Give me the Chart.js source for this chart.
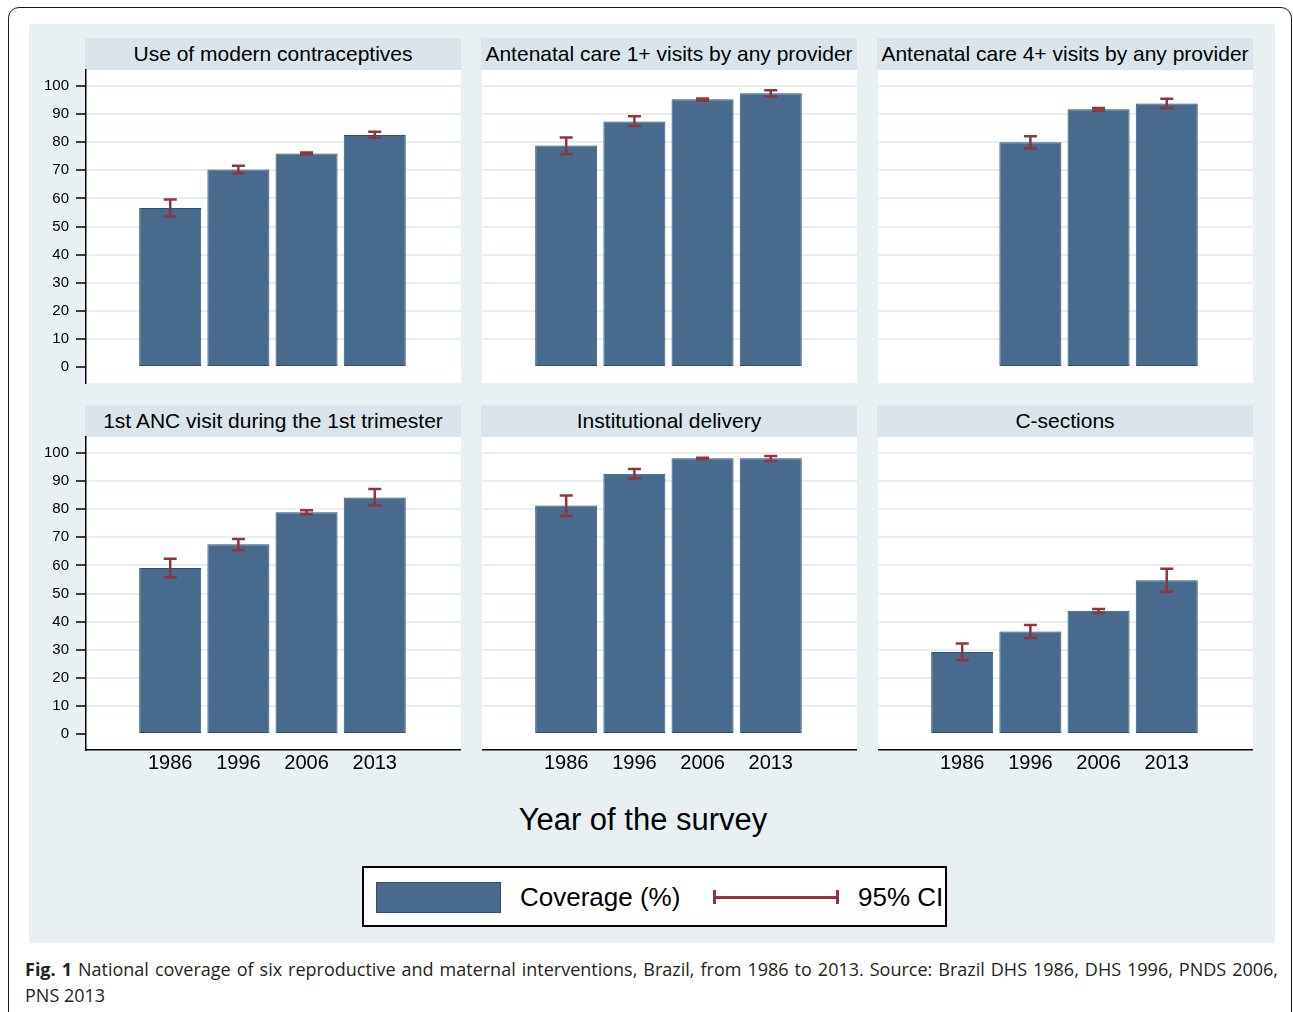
<!DOCTYPE html>
<html><head><meta charset="utf-8">
<script src="https://cdn.jsdelivr.net/npm/chart.js@4.4.1/dist/chart.umd.min.js"></script>
<style>
html,body{margin:0;padding:0;background:#fff;}
body{width:1293px;height:1012px;position:relative;overflow:hidden;font-family:"Liberation Sans",Arial,sans-serif;}
.abs{position:absolute;}
#frame{left:8px;top:7px;width:1284px;height:1100px;border:1.5px solid #1a1a1a;border-radius:11px;box-sizing:border-box;}
#bg{left:29px;top:24px;width:1246px;height:919px;background:#e9f0f3;}
.hdr{position:absolute;height:32px;background:#d9e5eb;color:#000;font-size:21px;line-height:32px;text-align:center;white-space:nowrap;overflow:hidden;}
canvas{position:absolute;}
#xtitle{left:443px;top:802px;width:400px;text-align:center;font-size:31px;line-height:36px;color:#000;}
#legend{left:362px;top:866px;width:585px;height:61px;border:2px solid #000;background:#fff;box-sizing:border-box;overflow:hidden;}
.lt{position:absolute;font-size:26px;line-height:30px;top:14px;color:#000;white-space:nowrap;}
.cap{font-family:"Open Sans",sans-serif;font-size:18px;line-height:26px;color:#231f20;white-space:nowrap;}
</style></head>
<body>
<div id="frame" class="abs"></div>
<div id="bg" class="abs"></div>
<div id="panels"></div>
<div id="xtitle" class="abs">Year of the survey</div>
<div id="legend" class="abs">
  <div class="abs" style="left:12px;top:14px;width:125px;height:31px;background:#486a8c;border:1px solid #2b5079;box-sizing:border-box;"></div>
  <div class="lt" style="left:156px;">Coverage (%)</div>
  <div class="abs" style="left:350px;top:28px;width:124px;height:2.5px;background:#8e363d;"></div>
  <div class="abs" style="left:349px;top:22px;width:2.5px;height:14px;background:#8e363d;"></div>
  <div class="abs" style="left:472px;top:22px;width:2.5px;height:14px;background:#8e363d;"></div>
  <div class="lt" style="left:494px;">95% CI</div>
</div>
<div id="cap1" class="abs cap" style="left:25px;top:956px;"><span id="cap1s" style="display:inline-block;transform-origin:0 0;"><b>Fig. 1</b> National coverage of six reproductive and maternal interventions, Brazil, from 1986 to 2013. Source: Brazil DHS 1986, DHS 1996, PNDS 2006,</span></div>
<div id="cap2" class="abs cap" style="left:25px;top:982px;">PNS 2013</div>
<script>
// ---- data ----
const years = ['1986', '1996', '2006', '2013'];
const yTicks = [0, 10, 20, 30, 40, 50, 60, 70, 80, 90, 100];
const titles = [
  'Use of modern contraceptives',
  'Antenatal care 1+ visits by any provider',
  'Antenatal care 4+ visits by any provider',
  '1st ANC visit during the 1st trimester',
  'Institutional delivery',
  'C-sections'
];
const contraceptives   = [56.6, 70.3, 76.0, 82.6];
const contraceptivesLo = [53.6, 68.9, 75.7, 81.6];
const contraceptivesHi = [59.6, 71.6, 76.3, 83.7];

const anc1   = [78.8, 87.4, 95.3, 97.4];
const anc1Lo = [75.7, 85.8, 94.8, 96.3];
const anc1Hi = [81.7, 89.2, 95.6, 98.5];

const anc4   = [null, 80.0, 91.7, 93.8];
const anc4Lo = [null, 77.8, 91.2, 92.1];
const anc4Hi = [null, 82.1, 92.2, 95.5];

const trimester   = [59.1, 67.5, 78.9, 84.2];
const trimesterLo = [55.7, 65.4, 78.2, 81.3];
const trimesterHi = [62.4, 69.4, 79.6, 87.2];

const institutional   = [81.3, 92.6, 98.1, 98.1];
const institutionalLo = [77.6, 90.9, 97.9, 97.2];
const institutionalHi = [84.9, 94.3, 98.3, 98.9];

const csections   = [29.2, 36.5, 43.9, 54.7];
const csectionsLo = [26.2, 34.2, 43.1, 50.6];
const csectionsHi = [32.2, 38.8, 44.5, 58.8];

// ---- styling / layout ----
const BAR = '#486a8c', BAR_BORDER = '#2b5079', CI = '#8e363d', GRID = '#e7eff1';
const panels = [
  {title: titles[0], v: contraceptives, lo: contraceptivesLo, hi: contraceptivesHi},
  {title: titles[1], v: anc1, lo: anc1Lo, hi: anc1Hi},
  {title: titles[2], v: anc4, lo: anc4Lo, hi: anc4Hi},
  {title: titles[3], v: trimester, lo: trimesterLo, hi: trimesterHi},
  {title: titles[4], v: institutional, lo: institutionalLo, hi: institutionalHi},
  {title: titles[5], v: csections, lo: csectionsLo, hi: csectionsHi}
];
const colLeft = [86, 482, 878];
const PW = 375;
const rowHdrTop = [38, 405];
const rowPlotTop = [70, 437];
const PH = 313;
const YAXW = 56, XAXH = 37;

const errorBars = {
  id: 'errorBars',
  afterDatasetsDraw(chart, args, opts) {
    const {ctx, scales: {x, y}} = chart;
    ctx.save();
    ctx.strokeStyle = CI;
    ctx.lineWidth = 2.5;
    ctx.lineCap = 'butt';
    opts.lo.forEach((lo, i) => {
      const hi = opts.hi[i];
      if (lo == null || hi == null) return;
      const px = x.getPixelForValue(i + 1);
      const pl = y.getPixelForValue(lo), ph = y.getPixelForValue(hi);
      ctx.beginPath();
      ctx.moveTo(px, pl); ctx.lineTo(px, ph);
      ctx.moveTo(px - 6.5, pl); ctx.lineTo(px + 6.5, pl);
      ctx.moveTo(px - 6.5, ph); ctx.lineTo(px + 6.5, ph);
      ctx.stroke();
    });
    ctx.restore();
  }
};
const whiteArea = {
  id: 'whiteArea',
  beforeDraw(chart) {
    const {ctx, chartArea: a} = chart;
    ctx.save();
    ctx.fillStyle = '#ffffff';
    ctx.fillRect(a.left, a.top, a.right - a.left, a.bottom - a.top);
    ctx.restore();
  }
};

const host = document.getElementById('panels');
panels.forEach((p, k) => {
  const row = Math.floor(k / 3), col = k % 3;
  const hdr = document.createElement('div');
  hdr.className = 'hdr';
  hdr.style.left = (colLeft[col] - 1) + 'px';
  hdr.style.top = rowHdrTop[row] + 'px';
  hdr.style.width = (PW + 1) + 'px';
  hdr.textContent = p.title;
  host.appendChild(hdr);

  const hasY = col === 0, hasX = row === 1;
  const cv = document.createElement('canvas');
  const w = PW + (hasY ? YAXW : 0);
  const h = PH + (hasX ? XAXH : 0);
  cv.width = w; cv.height = h;
  cv.style.left = (colLeft[col] - (hasY ? YAXW : 0)) + 'px';
  cv.style.top = rowPlotTop[row] + 'px';
  host.appendChild(cv);

  const data = [];
  p.v.forEach((val, i) => { if (val != null) data.push({x: i + 1, y: val}); });

  const chart = new Chart(cv, {
    type: 'bar',
    data: {datasets: [{
      data,
      backgroundColor: BAR,
      borderColor: BAR_BORDER,
      borderWidth: 1,
      borderSkipped: false,
      barPercentage: 0.91,
      categoryPercentage: 1
    }]},
    plugins: [whiteArea, errorBars],
    options: {
      responsive: false,
      maintainAspectRatio: false,
      animation: false,
      events: [],
      layout: {padding: 0, autoPadding: false},
      plugins: {
        legend: {display: false},
        title: {display: false},
        tooltip: {enabled: false},
        errorBars: {lo: p.lo, hi: p.hi}
      },
      scales: {
        x: {
          type: 'linear',
          offset: false,
          min: -0.235, max: 5.265,
          display: hasX,
          afterBuildTicks: s => { s.ticks = years.map((_, i) => ({value: i + 1})); },
          afterFit: s => { if (hasX) s.height = XAXH; },
          grid: {display: false, drawTicks: false, offset: false},
          border: {display: true, color: '#000', width: 1.5},
          ticks: {
            callback: v => years[v - 1],
            autoSkip: false, maxRotation: 0, minRotation: 0,
            color: '#000', padding: 1,
            font: {family: '"Liberation Sans", Arial, sans-serif', size: 20}
          }
        },
        y: {
          min: -5.7, max: 105.7,
          display: true,
          afterBuildTicks: s => { s.ticks = yTicks.map(v => ({value: v})); },
          afterFit: s => { s.width = hasY ? YAXW : 0; },
          grid: {
            color: c => (c.tick && c.tick.value === 0) ? 'rgba(0,0,0,0)' : GRID,
            lineWidth: 2,
            drawTicks: hasY,
            tickLength: 10,
            tickColor: '#000',
            tickWidth: 1.5
          },
          border: {display: hasY, color: '#000', width: 1.5},
          ticks: {
            display: hasY,
            color: '#000', padding: 7,
            font: {family: '"Liberation Sans", Arial, sans-serif', size: 15}
          }
        }
      }
    }
  });

  // place the chart so its plot area lands exactly on the panel box
  for (let pass = 0; pass < 2; pass++) {
    const a = chart.chartArea;
    const pl = a.left, pt = a.top, pr = chart.width - a.right, pb = chart.height - a.bottom;
    const nw = Math.round(PW + pl + pr), nh = Math.round(PH + pt + pb);
    cv.style.left = (colLeft[col] - pl) + 'px';
    cv.style.top = (rowPlotTop[row] - pt) + 'px';
    if (nw !== chart.width || nh !== chart.height) chart.resize(nw, nh);
  }
  cv.style.position = 'absolute';
});

// caption line 1: fit to full justified width
(function () {
  const s = document.getElementById('cap1s');
  const target = 1253;
  const w = s.getBoundingClientRect().width;
  if (w > target) {
    s.style.transform = 'scaleX(' + (target / w) + ')';
  } else {
    const spaces = (s.textContent.match(/ /g) || []).length;
    s.style.wordSpacing = ((target - w) / spaces) + 'px';
  }
})();
</script>
</body></html>
